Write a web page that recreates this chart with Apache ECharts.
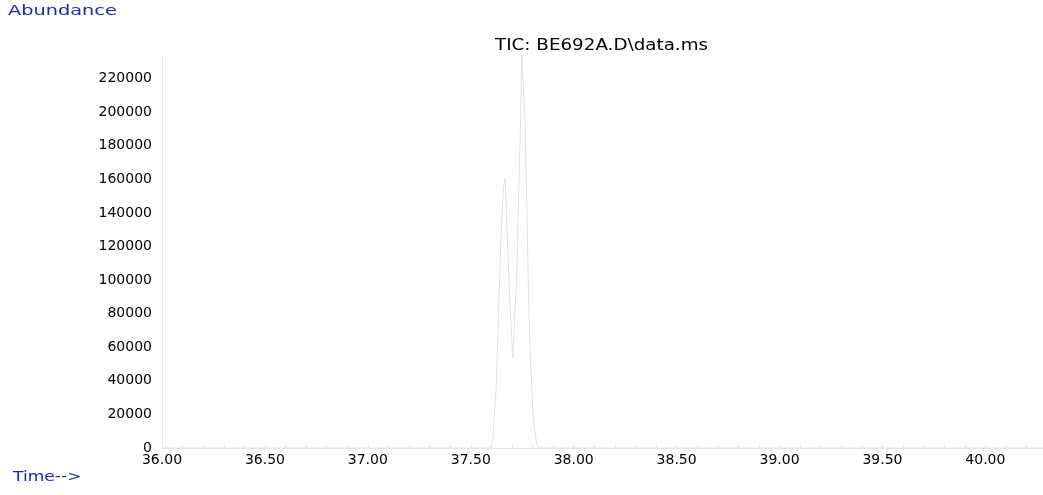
<!DOCTYPE html>
<html>
<head>
<meta charset="utf-8">
<script src="https://cdn.jsdelivr.net/npm/echarts@6/dist/echarts.min.js"></script>
<style>
  html, body { margin: 0; padding: 0; background: #fff; }
  #chart { width: 1043px; height: 495px; }
</style>
</head>
<body>
<div id="chart"></div>
<script>
// Total ion chromatogram: retention time (min) and abundance per scan
const retentionTimes = [
  36.00, 37.597, 37.607, 37.623, 37.636, 37.646, 37.658, 37.667, 37.678,
  37.691, 37.704, 37.724, 37.731, 37.740, 37.748, 37.764, 37.772, 37.780,
  37.788, 37.804, 37.821, 37.827, 40.28
];
const abundances = [
  0, 0, 4800, 34500, 83900, 123800, 153600, 160700, 123800,
  83900, 53600, 104200, 143500, 183300, 234000, 193500, 147600, 94000,
  58300, 16700, 1800, 0, 0
];
const chartTitle = 'TIC: BE692A.D\\data.ms';
const yAxisName = 'Abundance';
const xAxisName = 'Time-->';

const points = retentionTimes.map((t, i) => [t, abundances[i]]);

const labelFont = { fontFamily: 'DejaVu Sans', fontSize: 14, color: '#000' };
const axisGrey = '#e6e6e6';
const nameBlue = '#2424b0';

const chart = echarts.init(document.getElementById('chart'), null, { renderer: 'canvas' });
chart.setOption({
  animation: false,
  backgroundColor: '#fff',
  grid: { left: 162, right: 0, top: 55, bottom: 47, containLabel: false },
  xAxis: {
    type: 'value',
    min: 36,
    max: 40.28,
    interval: 0.1,
    axisLine: { show: true, lineStyle: { color: axisGrey, width: 1 } },
    axisTick: { show: true, inside: true, length: 3, lineStyle: { color: axisGrey } },
    splitLine: { show: false },
    axisLabel: Object.assign({}, labelFont, {
      margin: 5,
      showMaxLabel: false,
      formatter: v => {
        const k = Math.round(v * 10);
        return (Math.abs(v * 10 - k) < 1e-6 && k % 5 === 0) ? v.toFixed(2) : '';
      }
    })
  },
  yAxis: {
    type: 'value',
    min: 0,
    max: 234000,
    interval: 20000,
    axisLine: { show: true, lineStyle: { color: axisGrey, width: 1 } },
    axisTick: { show: false },
    splitLine: { show: false },
    axisLabel: Object.assign({}, labelFont, {
      margin: 10,
      showMaxLabel: false,
      formatter: v => (v % 20000 === 0 ? String(v) : '')
    })
  },
  series: [{
    type: 'line',
    data: points,
    symbol: 'none',
    smooth: false,
    lineStyle: { color: '#e2e2e2', width: 1 },
    z: 1
  }],
  // Header and axis captions, stretched horizontally like the instrument printout
  graphic: [
    {
      type: 'text', x: 8, y: 4, scaleX: 1.38, originX: 0,
      style: { text: yAxisName, fontFamily: 'DejaVu Sans', fontSize: 14, fill: nameBlue, verticalAlign: 'top' }
    },
    {
      type: 'text', x: 13, y: 470, scaleX: 1.22, originX: 0,
      style: { text: xAxisName, fontFamily: 'DejaVu Sans', fontSize: 14, fill: nameBlue, verticalAlign: 'top' }
    },
    {
      type: 'text', x: 495, y: 39, scaleX: 1.22, originX: 0,
      style: { text: chartTitle, fontFamily: 'DejaVu Sans', fontSize: 15, fill: '#000', verticalAlign: 'top' }
    }
  ]
});
</script>
</body>
</html>
